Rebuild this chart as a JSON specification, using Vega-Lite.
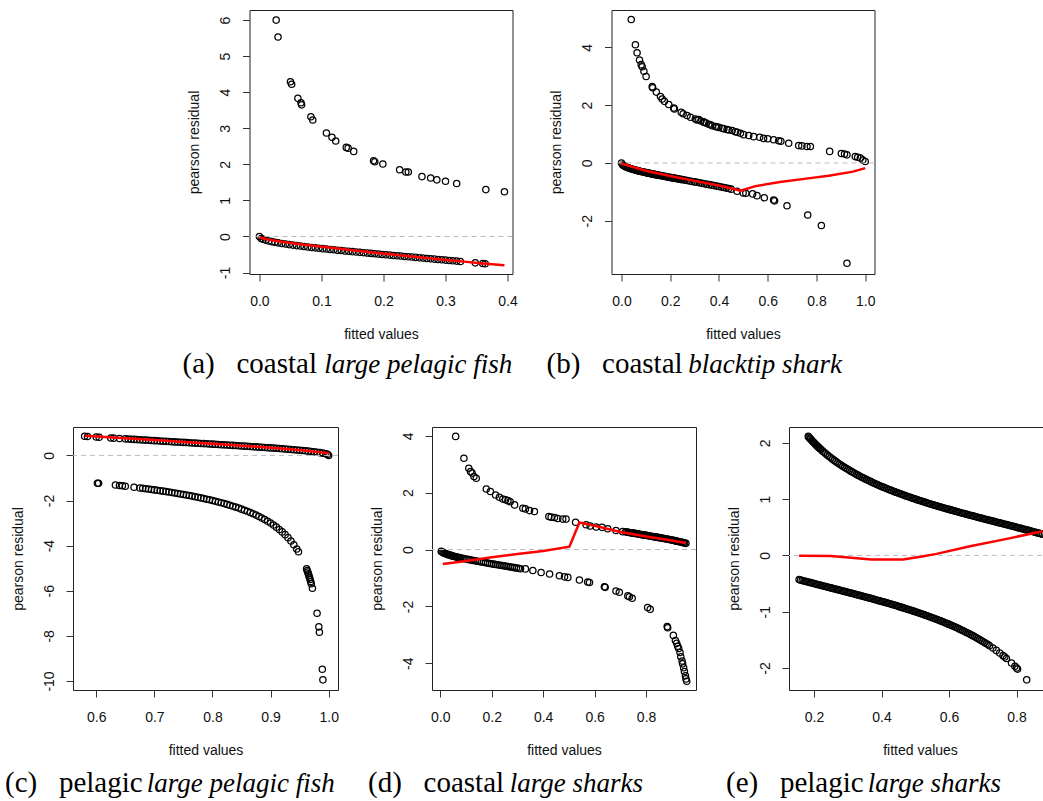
{
  "$schema": "https://vega.github.io/schema/vega-lite/v6.json",
  "background": "white",
  "padding": {"left": 4, "top": 9, "right": -5, "bottom": 2},
  "datasets": {
    "zero": [{"ref": 0}],
    "a_pts": [
      {"x":0.027,"y":6.0},{"x":0.030,"y":5.53},{"x":0.050,"y":4.29},{"x":0.052,"y":4.22},{"x":0.062,"y":3.83},{"x":0.067,"y":3.71},{"x":0.068,"y":3.65},{"x":0.083,"y":3.32},{"x":0.086,"y":3.23},{"x":0.108,"y":2.87},{"x":0.117,"y":2.75},{"x":0.123,"y":2.65},{"x":0.140,"y":2.47},{"x":0.143,"y":2.45},{"x":0.152,"y":2.36},{"x":0.184,"y":2.10},{"x":0.186,"y":2.07},{"x":0.199,"y":2.01},{"x":0.226,"y":1.85},{"x":0.236,"y":1.79},{"x":0.240,"y":1.79},{"x":0.262,"y":1.66},{"x":0.276,"y":1.62},{"x":0.286,"y":1.57},{"x":0.300,"y":1.53},{"x":0.318,"y":1.47},{"x":0.365,"y":1.30},{"x":0.395,"y":1.24},
      {"x":0,"y":0},{"x":0.003,"y":-0.055},{"x":0.006,"y":-0.078},{"x":0.01,"y":-0.1},{"x":0.015,"y":-0.123},{"x":0.02,"y":-0.143},{"x":0.025,"y":-0.16},{"x":0.03,"y":-0.176},{"x":0.036,"y":-0.193},{"x":0.042,"y":-0.209},{"x":0.048,"y":-0.225},{"x":0.054,"y":-0.239},{"x":0.06,"y":-0.253},{"x":0.066,"y":-0.266},{"x":0.072,"y":-0.279},{"x":0.078,"y":-0.291},{"x":0.084,"y":-0.303},{"x":0.09,"y":-0.315},{"x":0.096,"y":-0.326},{"x":0.102,"y":-0.337},{"x":0.108,"y":-0.348},{"x":0.114,"y":-0.359},{"x":0.12,"y":-0.369},{"x":0.126,"y":-0.38},{"x":0.132,"y":-0.39},{"x":0.138,"y":-0.4},{"x":0.144,"y":-0.41},{"x":0.15,"y":-0.42},{"x":0.156,"y":-0.43},{"x":0.162,"y":-0.44},{"x":0.168,"y":-0.449},{"x":0.174,"y":-0.459},{"x":0.18,"y":-0.469},{"x":0.186,"y":-0.478},{"x":0.192,"y":-0.488},{"x":0.198,"y":-0.497},{"x":0.204,"y":-0.506},{"x":0.21,"y":-0.516},{"x":0.216,"y":-0.525},{"x":0.222,"y":-0.534},{"x":0.228,"y":-0.543},{"x":0.234,"y":-0.553},{"x":0.24,"y":-0.562},{"x":0.246,"y":-0.571},{"x":0.252,"y":-0.58},{"x":0.258,"y":-0.59},{"x":0.264,"y":-0.599},{"x":0.27,"y":-0.608},{"x":0.276,"y":-0.617},{"x":0.282,"y":-0.627},{"x":0.288,"y":-0.636},{"x":0.294,"y":-0.645},{"x":0.3,"y":-0.655},{"x":0.306,"y":-0.664},{"x":0.312,"y":-0.673},{"x":0.318,"y":-0.683},{"x":0.324,"y":-0.692},{"x":0.348,"y":-0.731},{"x":0.36,"y":-0.75},{"x":0.364,"y":-0.757}
    ],
    "a_fit": [
      {"x":0,"y":-0.03},{"x":0.01,"y":-0.07},{"x":0.03,"y":-0.13},{"x":0.05,"y":-0.18},{"x":0.083,"y":-0.25},{"x":0.12,"y":-0.32},{"x":0.15,"y":-0.38},{"x":0.19,"y":-0.46},{"x":0.25,"y":-0.56},{"x":0.29,"y":-0.63},{"x":0.326,"y":-0.69},{"x":0.36,"y":-0.75},{"x":0.395,"y":-0.80}
    ],
    "b_pts": [
      {"x":0.040,"y":4.96},{"x":0.057,"y":4.09},{"x":0.064,"y":3.81},{"x":0.074,"y":3.56},{"x":0.081,"y":3.40},{"x":0.085,"y":3.33},{"x":0.092,"y":3.17},{"x":0.101,"y":2.99},{"x":0.126,"y":2.64},{"x":0.128,"y":2.60},{"x":0.143,"y":2.45},{"x":0.160,"y":2.30},{"x":0.167,"y":2.21},{"x":0.176,"y":2.13},{"x":0.194,"y":2.02},{"x":0.214,"y":1.90},{"x":0.217,"y":1.87},{"x":0.245,"y":1.75},{"x":0.253,"y":1.70},{"x":0.269,"y":1.64},{"x":0.283,"y":1.58},{"x":0.303,"y":1.52},{"x":0.31,"y":1.49},{"x":0.317,"y":1.50},{"x":0.326,"y":1.45},{"x":0.337,"y":1.42},{"x":0.34,"y":1.40},{"x":0.347,"y":1.38},{"x":0.358,"y":1.34},{"x":0.365,"y":1.32},{"x":0.372,"y":1.29},{"x":0.385,"y":1.26},{"x":0.39,"y":1.25},{"x":0.399,"y":1.23},{"x":0.413,"y":1.20},{"x":0.42,"y":1.18},{"x":0.433,"y":1.16},{"x":0.44,"y":1.14},{"x":0.454,"y":1.12},{"x":0.467,"y":1.08},{"x":0.475,"y":1.06},{"x":0.488,"y":1.03},{"x":0.501,"y":0.98},{"x":0.522,"y":0.95},{"x":0.542,"y":0.91},{"x":0.567,"y":0.89},{"x":0.583,"y":0.85},{"x":0.600,"y":0.84},{"x":0.624,"y":0.80},{"x":0.645,"y":0.77},{"x":0.654,"y":0.75},{"x":0.686,"y":0.68},{"x":0.727,"y":0.60},{"x":0.740,"y":0.59},{"x":0.761,"y":0.57},{"x":0.775,"y":0.57},{"x":0.854,"y":0.40},{"x":0.902,"y":0.33},{"x":0.915,"y":0.31},{"x":0.925,"y":0.28},{"x":0.959,"y":0.22},{"x":0.969,"y":0.20},{"x":0.980,"y":0.17},{"x":0.990,"y":0.10},{"x":1.000,"y":0.05},
      {"x":0,"y":0},{"x":0.005,"y":-0.071},{"x":0.01,"y":-0.1},{"x":0.015,"y":-0.123},{"x":0.02,"y":-0.143},{"x":0.025,"y":-0.16},{"x":0.03,"y":-0.176},{"x":0.035,"y":-0.19},{"x":0.04,"y":-0.204},{"x":0.045,"y":-0.217},{"x":0.05,"y":-0.229},{"x":0.055,"y":-0.241},{"x":0.06,"y":-0.253},{"x":0.065,"y":-0.264},{"x":0.07,"y":-0.274},{"x":0.075,"y":-0.285},{"x":0.08,"y":-0.295},{"x":0.085,"y":-0.305},{"x":0.09,"y":-0.315},{"x":0.095,"y":-0.324},{"x":0.1,"y":-0.333},{"x":0.105,"y":-0.343},{"x":0.11,"y":-0.352},{"x":0.115,"y":-0.36},{"x":0.12,"y":-0.369},{"x":0.125,"y":-0.378},{"x":0.13,"y":-0.387},{"x":0.135,"y":-0.395},{"x":0.14,"y":-0.404},{"x":0.145,"y":-0.412},{"x":0.15,"y":-0.42},{"x":0.155,"y":-0.428},{"x":0.16,"y":-0.436},{"x":0.165,"y":-0.445},{"x":0.17,"y":-0.453},{"x":0.175,"y":-0.461},{"x":0.18,"y":-0.469},{"x":0.185,"y":-0.476},{"x":0.19,"y":-0.484},{"x":0.195,"y":-0.492},{"x":0.2,"y":-0.5},{"x":0.205,"y":-0.508},{"x":0.21,"y":-0.516},{"x":0.215,"y":-0.523},{"x":0.22,"y":-0.531},{"x":0.225,"y":-0.539},{"x":0.23,"y":-0.547},{"x":0.235,"y":-0.554},{"x":0.24,"y":-0.562},{"x":0.245,"y":-0.57},{"x":0.25,"y":-0.577},{"x":0.26,"y":-0.593},{"x":0.27,"y":-0.608},{"x":0.28,"y":-0.624},{"x":0.29,"y":-0.639},{"x":0.3,"y":-0.655},{"x":0.31,"y":-0.67},{"x":0.32,"y":-0.686},{"x":0.33,"y":-0.702},{"x":0.34,"y":-0.718},{"x":0.35,"y":-0.734},{"x":0.36,"y":-0.75},{"x":0.37,"y":-0.766},{"x":0.38,"y":-0.783},{"x":0.39,"y":-0.8},{"x":0.4,"y":-0.817},{"x":0.41,"y":-0.834},{"x":0.42,"y":-0.851},{"x":0.43,"y":-0.869},{"x":0.44,"y":-0.886},{"x":0.45,"y":-0.905},
      {"x":0.474,"y":-0.98},{"x":0.499,"y":-1.04},{"x":0.510,"y":-1.05},{"x":0.538,"y":-1.07},{"x":0.556,"y":-1.13},{"x":0.586,"y":-1.20},{"x":0.624,"y":-1.28},{"x":0.628,"y":-1.31},{"x":0.679,"y":-1.48},{"x":0.764,"y":-1.80},{"x":0.820,"y":-2.16},{"x":0.925,"y":-3.47}
    ],
    "b_fit": [
      {"x":0,"y":-0.02},{"x":0.05,"y":-0.15},{"x":0.1,"y":-0.27},{"x":0.2,"y":-0.45},{"x":0.3,"y":-0.62},{"x":0.4,"y":-0.78},{"x":0.488,"y":-0.96},{"x":0.55,"y":-0.80},{"x":0.65,"y":-0.66},{"x":0.75,"y":-0.55},{"x":0.85,"y":-0.44},{"x":0.95,"y":-0.30},{"x":1.0,"y":-0.18}
    ],
    "c_pts": [
      {"x":0.58,"y":0.851},{"x":0.585,"y":0.842},{"x":0.6,"y":0.8165},{"x":0.605,"y":0.808},{"x":0.625,"y":0.7746},{"x":0.63,"y":0.7664},{"x":0.64,"y":0.75},{"x":0.65,"y":0.7338},{"x":0.655,"y":0.7258},{"x":0.66,"y":0.7177},{"x":0.665,"y":0.7098},{"x":0.67,"y":0.7018},{"x":0.675,"y":0.6939},{"x":0.68,"y":0.686},{"x":0.685,"y":0.6782},{"x":0.69,"y":0.6703},{"x":0.695,"y":0.6625},{"x":0.7,"y":0.6547},{"x":0.705,"y":0.6469},{"x":0.71,"y":0.6391},{"x":0.715,"y":0.6314},{"x":0.72,"y":0.6236},{"x":0.725,"y":0.6159},{"x":0.73,"y":0.6082},{"x":0.735,"y":0.6005},{"x":0.74,"y":0.5928},{"x":0.745,"y":0.5851},{"x":0.75,"y":0.5774},{"x":0.755,"y":0.5697},{"x":0.76,"y":0.562},{"x":0.765,"y":0.5542},{"x":0.77,"y":0.5465},{"x":0.775,"y":0.5388},{"x":0.78,"y":0.5311},{"x":0.785,"y":0.5233},{"x":0.79,"y":0.5156},{"x":0.795,"y":0.5078},{"x":0.8,"y":0.5},{"x":0.805,"y":0.4922},{"x":0.81,"y":0.4843},{"x":0.815,"y":0.4764},{"x":0.82,"y":0.4685},{"x":0.825,"y":0.4606},{"x":0.83,"y":0.4526},{"x":0.835,"y":0.4445},{"x":0.84,"y":0.4364},{"x":0.845,"y":0.4283},{"x":0.85,"y":0.4201},{"x":0.855,"y":0.4118},{"x":0.86,"y":0.4035},{"x":0.865,"y":0.3951},{"x":0.87,"y":0.3866},{"x":0.875,"y":0.378},{"x":0.88,"y":0.3693},{"x":0.885,"y":0.3605},{"x":0.89,"y":0.3516},{"x":0.895,"y":0.3426},{"x":0.9,"y":0.3333},{"x":0.905,"y":0.324},{"x":0.91,"y":0.3145},{"x":0.915,"y":0.3048},{"x":0.92,"y":0.2949},{"x":0.925,"y":0.2847},{"x":0.93,"y":0.2744},{"x":0.935,"y":0.2637},{"x":0.94,"y":0.2526},{"x":0.945,"y":0.2412},{"x":0.95,"y":0.2294},{"x":0.955,"y":0.2171},{"x":0.96,"y":0.2041},{"x":0.965,"y":0.1904},{"x":0.97,"y":0.1759},{"x":0.975,"y":0.1601},{"x":0.98,"y":0.1429},{"x":0.985,"y":0.1234},{"x":0.99,"y":0.1005},{"x":0.995,"y":0.0709},{"x":0.998,"y":0.0448},{"x":1.0,"y":0.0},
      {"x":0.602,"y":-1.23},{"x":0.604,"y":-1.235},{"x":0.633,"y":-1.313},{"x":0.64,"y":-1.333},{"x":0.645,"y":-1.348},{"x":0.65,"y":-1.363},{"x":0.665,"y":-1.409},{"x":0.675,"y":-1.441},{"x":0.68,"y":-1.458},{"x":0.685,"y":-1.475},{"x":0.69,"y":-1.492},{"x":0.695,"y":-1.51},{"x":0.7,"y":-1.528},{"x":0.705,"y":-1.546},{"x":0.71,"y":-1.565},{"x":0.715,"y":-1.584},{"x":0.72,"y":-1.604},{"x":0.725,"y":-1.624},{"x":0.73,"y":-1.644},{"x":0.735,"y":-1.665},{"x":0.74,"y":-1.687},{"x":0.745,"y":-1.709},{"x":0.75,"y":-1.732},{"x":0.755,"y":-1.755},{"x":0.76,"y":-1.78},{"x":0.765,"y":-1.804},{"x":0.77,"y":-1.83},{"x":0.775,"y":-1.856},{"x":0.78,"y":-1.883},{"x":0.785,"y":-1.911},{"x":0.79,"y":-1.94},{"x":0.795,"y":-1.969},{"x":0.8,"y":-2.0},{"x":0.805,"y":-2.032},{"x":0.81,"y":-2.065},{"x":0.815,"y":-2.099},{"x":0.82,"y":-2.134},{"x":0.825,"y":-2.171},{"x":0.83,"y":-2.21},{"x":0.835,"y":-2.25},{"x":0.84,"y":-2.291},{"x":0.845,"y":-2.335},{"x":0.85,"y":-2.381},{"x":0.855,"y":-2.428},{"x":0.86,"y":-2.479},{"x":0.865,"y":-2.531},{"x":0.87,"y":-2.587},{"x":0.875,"y":-2.646},{"x":0.88,"y":-2.708},{"x":0.885,"y":-2.774},{"x":0.89,"y":-2.845},{"x":0.895,"y":-2.92},{"x":0.9,"y":-3.0},{"x":0.905,"y":-3.087},{"x":0.91,"y":-3.18},{"x":0.915,"y":-3.281},{"x":0.92,"y":-3.391},{"x":0.925,"y":-3.512},{"x":0.93,"y":-3.645},{"x":0.935,"y":-3.793},{"x":0.94,"y":-3.958},{"x":0.945,"y":-4.145},{"x":0.948,"y":-4.27},{"x":0.962,"y":-5.031},{"x":0.963,"y":-5.102},{"x":0.964,"y":-5.175},{"x":0.965,"y":-5.251},{"x":0.966,"y":-5.33},{"x":0.967,"y":-5.413},{"x":0.968,"y":-5.5},{"x":0.969,"y":-5.591},{"x":0.97,"y":-5.686},{"x":0.972,"y":-5.892},{"x":0.98,"y":-7.0},{"x":0.983,"y":-7.6},{"x":0.984,"y":-7.84},{"x":0.989,"y":-9.48},{"x":0.99,"y":-9.95}
    ],
    "c_fit": [
      {"x":0.58,"y":0.87},{"x":0.65,"y":0.76},{"x":0.7,"y":0.68},{"x":0.75,"y":0.6},{"x":0.8,"y":0.52},{"x":0.85,"y":0.43},{"x":0.9,"y":0.34},{"x":0.95,"y":0.24},{"x":1.0,"y":0.1}
    ],
    "d_pts": [
      {"x":0.060,"y":3.98},{"x":0.092,"y":3.21},{"x":0.111,"y":2.86},{"x":0.118,"y":2.74},{"x":0.124,"y":2.69},{"x":0.131,"y":2.57},{"x":0.140,"y":2.51},{"x":0.179,"y":2.13},{"x":0.195,"y":2.04},{"x":0.215,"y":1.92},{"x":0.230,"y":1.84},{"x":0.243,"y":1.78},{"x":0.254,"y":1.75},{"x":0.263,"y":1.72},{"x":0.272,"y":1.68},{"x":0.289,"y":1.57},{"x":0.321,"y":1.45},{"x":0.331,"y":1.43},{"x":0.347,"y":1.37},{"x":0.366,"y":1.34},{"x":0.422,"y":1.16},{"x":0.431,"y":1.14},{"x":0.444,"y":1.13},{"x":0.457,"y":1.09},{"x":0.476,"y":1.07},{"x":0.489,"y":1.07},{"x":0.526,"y":0.96},{"x":0.567,"y":0.87},{"x":0.583,"y":0.83},{"x":0.606,"y":0.79},{"x":0.629,"y":0.78},{"x":0.651,"y":0.73},{"x":0.683,"y":0.67},{"x":0.709,"y":0.63},
      {"x":0.72,"y":0.6236},{"x":0.725,"y":0.6159},{"x":0.73,"y":0.6082},{"x":0.735,"y":0.6005},{"x":0.74,"y":0.5928},{"x":0.745,"y":0.5851},{"x":0.75,"y":0.5774},{"x":0.755,"y":0.5697},{"x":0.76,"y":0.562},{"x":0.765,"y":0.5542},{"x":0.77,"y":0.5465},{"x":0.775,"y":0.5388},{"x":0.78,"y":0.5311},{"x":0.785,"y":0.5233},{"x":0.79,"y":0.5156},{"x":0.795,"y":0.5078},{"x":0.8,"y":0.5},{"x":0.805,"y":0.4922},{"x":0.81,"y":0.4843},{"x":0.815,"y":0.4764},{"x":0.82,"y":0.4685},{"x":0.825,"y":0.4606},{"x":0.83,"y":0.4526},{"x":0.835,"y":0.4445},{"x":0.84,"y":0.4364},{"x":0.845,"y":0.4283},{"x":0.85,"y":0.4201},{"x":0.855,"y":0.4118},{"x":0.86,"y":0.4035},{"x":0.865,"y":0.3951},{"x":0.87,"y":0.3866},{"x":0.875,"y":0.378},{"x":0.88,"y":0.3693},{"x":0.885,"y":0.3605},{"x":0.89,"y":0.3516},{"x":0.895,"y":0.3426},{"x":0.9,"y":0.3333},{"x":0.905,"y":0.324},{"x":0.91,"y":0.3145},{"x":0.915,"y":0.3048},{"x":0.92,"y":0.2949},{"x":0.925,"y":0.2847},{"x":0.93,"y":0.2744},{"x":0.935,"y":0.2637},{"x":0.94,"y":0.2526},{"x":0.945,"y":0.2412},{"x":0.95,"y":0.2294},{"x":0.955,"y":0.2171},
      {"x":0.004,"y":-0.065},{"x":0.008,"y":-0.09},{"x":0.012,"y":-0.11},{"x":0.016,"y":-0.128},{"x":0.02,"y":-0.143},{"x":0.024,"y":-0.157},{"x":0.028,"y":-0.17},{"x":0.032,"y":-0.182},{"x":0.036,"y":-0.193},{"x":0.04,"y":-0.204},{"x":0.044,"y":-0.215},{"x":0.048,"y":-0.225},{"x":0.052,"y":-0.234},{"x":0.056,"y":-0.244},{"x":0.06,"y":-0.253},{"x":0.064,"y":-0.262},{"x":0.068,"y":-0.27},{"x":0.072,"y":-0.279},{"x":0.076,"y":-0.287},{"x":0.08,"y":-0.295},{"x":0.088,"y":-0.311},{"x":0.096,"y":-0.326},{"x":0.104,"y":-0.341},{"x":0.112,"y":-0.355},{"x":0.12,"y":-0.369},{"x":0.128,"y":-0.383},{"x":0.136,"y":-0.397},{"x":0.144,"y":-0.41},{"x":0.152,"y":-0.423},{"x":0.16,"y":-0.436},{"x":0.168,"y":-0.449},{"x":0.176,"y":-0.462},{"x":0.184,"y":-0.475},{"x":0.192,"y":-0.488},{"x":0.2,"y":-0.5},{"x":0.208,"y":-0.513},{"x":0.216,"y":-0.525},{"x":0.224,"y":-0.537},{"x":0.232,"y":-0.55},{"x":0.24,"y":-0.562},{"x":0.248,"y":-0.574},{"x":0.256,"y":-0.587},{"x":0.264,"y":-0.599},{"x":0.272,"y":-0.611},{"x":0.28,"y":-0.624},{"x":0.288,"y":-0.636},{"x":0.296,"y":-0.648},{"x":0.304,"y":-0.661},{"x":0.312,"y":-0.673},
      {"x":0.331,"y":-0.68},{"x":0.360,"y":-0.74},{"x":0.392,"y":-0.81},{"x":0.425,"y":-0.86},{"x":0.463,"y":-0.92},{"x":0.483,"y":-0.96},{"x":0.496,"y":-0.98},{"x":0.541,"y":-1.07},{"x":0.573,"y":-1.14},{"x":0.580,"y":-1.16},{"x":0.638,"y":-1.31},{"x":0.641,"y":-1.33},{"x":0.683,"y":-1.46},{"x":0.696,"y":-1.50},{"x":0.729,"y":-1.63},{"x":0.735,"y":-1.66},{"x":0.746,"y":-1.71},{"x":0.806,"y":-2.04},{"x":0.816,"y":-2.10},{"x":0.882,"y":-2.71},{"x":0.884,"y":-2.75},{"x":0.906,"y":-3.02},{"x":0.914,"y":-3.20},{"x":0.919,"y":-3.30},{"x":0.923,"y":-3.40},{"x":0.927,"y":-3.48},{"x":0.932,"y":-3.62},{"x":0.935,"y":-3.77},{"x":0.940,"y":-3.92},{"x":0.942,"y":-4.02},{"x":0.946,"y":-4.16},{"x":0.949,"y":-4.29},{"x":0.953,"y":-4.44},{"x":0.955,"y":-4.55},{"x":0.958,"y":-4.63}
    ],
    "d_fit": [
      {"x":0.01,"y":-0.51},{"x":0.1,"y":-0.40},{"x":0.2,"y":-0.27},{"x":0.3,"y":-0.16},{"x":0.4,"y":-0.05},{"x":0.502,"y":0.10},{"x":0.541,"y":0.95},{"x":0.6,"y":0.84},{"x":0.7,"y":0.62},{"x":0.8,"y":0.46},{"x":0.9,"y":0.32},{"x":0.955,"y":0.23}
    ],
    "e_pts": [
      {"x":0.183,"y":2.113},{"x":0.185,"y":2.099},{"x":0.188,"y":2.078},{"x":0.19,"y":2.065},{"x":0.193,"y":2.045},{"x":0.195,"y":2.032},{"x":0.198,"y":2.013},{"x":0.2,"y":2.0},{"x":0.203,"y":1.981},{"x":0.205,"y":1.969},{"x":0.208,"y":1.952},{"x":0.21,"y":1.94},{"x":0.213,"y":1.922},{"x":0.215,"y":1.911},{"x":0.218,"y":1.894},{"x":0.22,"y":1.883},{"x":0.225,"y":1.856},{"x":0.23,"y":1.83},{"x":0.235,"y":1.804},{"x":0.24,"y":1.78},{"x":0.245,"y":1.755},{"x":0.25,"y":1.732},{"x":0.255,"y":1.709},{"x":0.26,"y":1.687},{"x":0.265,"y":1.665},{"x":0.27,"y":1.644},{"x":0.275,"y":1.624},{"x":0.28,"y":1.604},{"x":0.285,"y":1.584},{"x":0.29,"y":1.565},{"x":0.295,"y":1.546},{"x":0.3,"y":1.528},{"x":0.305,"y":1.51},{"x":0.31,"y":1.492},{"x":0.315,"y":1.475},{"x":0.32,"y":1.458},{"x":0.325,"y":1.441},{"x":0.33,"y":1.425},{"x":0.335,"y":1.409},{"x":0.34,"y":1.393},{"x":0.345,"y":1.378},{"x":0.35,"y":1.363},{"x":0.355,"y":1.348},{"x":0.36,"y":1.333},{"x":0.365,"y":1.319},{"x":0.37,"y":1.305},{"x":0.375,"y":1.291},{"x":0.38,"y":1.277},{"x":0.385,"y":1.264},{"x":0.39,"y":1.251},{"x":0.395,"y":1.238},{"x":0.4,"y":1.225},{"x":0.405,"y":1.212},{"x":0.41,"y":1.2},{"x":0.415,"y":1.187},{"x":0.42,"y":1.175},{"x":0.425,"y":1.163},{"x":0.43,"y":1.151},{"x":0.435,"y":1.139},{"x":0.44,"y":1.128},{"x":0.445,"y":1.116},{"x":0.45,"y":1.106},{"x":0.455,"y":1.095},{"x":0.46,"y":1.084},{"x":0.465,"y":1.073},{"x":0.47,"y":1.062},{"x":0.475,"y":1.051},{"x":0.48,"y":1.041},{"x":0.485,"y":1.031},{"x":0.49,"y":1.02},{"x":0.495,"y":1.01},{"x":0.5,"y":1.0},{"x":0.505,"y":0.99},{"x":0.51,"y":0.98},{"x":0.515,"y":0.971},{"x":0.52,"y":0.961},{"x":0.525,"y":0.951},{"x":0.53,"y":0.942},{"x":0.535,"y":0.932},{"x":0.54,"y":0.923},{"x":0.545,"y":0.914},{"x":0.55,"y":0.905},{"x":0.555,"y":0.895},{"x":0.56,"y":0.886},{"x":0.565,"y":0.877},{"x":0.57,"y":0.869},{"x":0.575,"y":0.86},{"x":0.58,"y":0.851},{"x":0.585,"y":0.842},{"x":0.59,"y":0.834},{"x":0.595,"y":0.825},{"x":0.6,"y":0.817},{"x":0.605,"y":0.808},{"x":0.61,"y":0.8},{"x":0.615,"y":0.791},{"x":0.62,"y":0.783},{"x":0.625,"y":0.775},{"x":0.63,"y":0.766},{"x":0.635,"y":0.758},{"x":0.64,"y":0.75},{"x":0.645,"y":0.742},{"x":0.65,"y":0.734},{"x":0.655,"y":0.726},{"x":0.66,"y":0.718},{"x":0.665,"y":0.71},{"x":0.67,"y":0.702},{"x":0.675,"y":0.694},{"x":0.68,"y":0.686},{"x":0.685,"y":0.678},{"x":0.69,"y":0.67},{"x":0.695,"y":0.662},{"x":0.7,"y":0.655},{"x":0.705,"y":0.647},{"x":0.71,"y":0.639},{"x":0.715,"y":0.631},{"x":0.72,"y":0.624},{"x":0.725,"y":0.616},{"x":0.73,"y":0.608},{"x":0.735,"y":0.6},{"x":0.74,"y":0.593},{"x":0.745,"y":0.585},{"x":0.75,"y":0.577},{"x":0.755,"y":0.57},{"x":0.76,"y":0.562},{"x":0.765,"y":0.554},{"x":0.77,"y":0.547},{"x":0.775,"y":0.539},{"x":0.78,"y":0.531},{"x":0.785,"y":0.523},{"x":0.79,"y":0.516},{"x":0.795,"y":0.508},{"x":0.8,"y":0.5},{"x":0.805,"y":0.492},{"x":0.81,"y":0.484},{"x":0.815,"y":0.476},{"x":0.82,"y":0.469},{"x":0.825,"y":0.461},{"x":0.83,"y":0.453},{"x":0.835,"y":0.445},{"x":0.84,"y":0.436},{"x":0.845,"y":0.428},{"x":0.85,"y":0.42},{"x":0.855,"y":0.412},{"x":0.86,"y":0.404},{"x":0.865,"y":0.395},{"x":0.87,"y":0.387},{"x":0.877,"y":0.375},
      {"x":0.156,"y":-0.43},{"x":0.16,"y":-0.436},{"x":0.165,"y":-0.445},{"x":0.17,"y":-0.453},{"x":0.175,"y":-0.461},{"x":0.18,"y":-0.469},{"x":0.185,"y":-0.476},{"x":0.19,"y":-0.484},{"x":0.195,"y":-0.492},{"x":0.2,"y":-0.5},{"x":0.205,"y":-0.508},{"x":0.21,"y":-0.516},{"x":0.215,"y":-0.523},{"x":0.22,"y":-0.531},{"x":0.225,"y":-0.539},{"x":0.23,"y":-0.547},{"x":0.235,"y":-0.554},{"x":0.24,"y":-0.562},{"x":0.245,"y":-0.57},{"x":0.25,"y":-0.577},{"x":0.255,"y":-0.585},{"x":0.26,"y":-0.593},{"x":0.265,"y":-0.6},{"x":0.27,"y":-0.608},{"x":0.275,"y":-0.616},{"x":0.28,"y":-0.624},{"x":0.285,"y":-0.631},{"x":0.29,"y":-0.639},{"x":0.295,"y":-0.647},{"x":0.3,"y":-0.655},{"x":0.305,"y":-0.662},{"x":0.31,"y":-0.67},{"x":0.315,"y":-0.678},{"x":0.32,"y":-0.686},{"x":0.325,"y":-0.694},{"x":0.33,"y":-0.702},{"x":0.335,"y":-0.71},{"x":0.34,"y":-0.718},{"x":0.345,"y":-0.726},{"x":0.35,"y":-0.734},{"x":0.355,"y":-0.742},{"x":0.36,"y":-0.75},{"x":0.365,"y":-0.758},{"x":0.37,"y":-0.766},{"x":0.375,"y":-0.775},{"x":0.38,"y":-0.783},{"x":0.385,"y":-0.791},{"x":0.39,"y":-0.8},{"x":0.395,"y":-0.808},{"x":0.4,"y":-0.817},{"x":0.405,"y":-0.825},{"x":0.41,"y":-0.834},{"x":0.415,"y":-0.842},{"x":0.42,"y":-0.851},{"x":0.425,"y":-0.86},{"x":0.43,"y":-0.869},{"x":0.435,"y":-0.877},{"x":0.44,"y":-0.886},{"x":0.445,"y":-0.895},{"x":0.45,"y":-0.905},{"x":0.455,"y":-0.914},{"x":0.46,"y":-0.923},{"x":0.465,"y":-0.932},{"x":0.47,"y":-0.942},{"x":0.475,"y":-0.951},{"x":0.48,"y":-0.961},{"x":0.485,"y":-0.971},{"x":0.49,"y":-0.98},{"x":0.495,"y":-0.99},{"x":0.5,"y":-1.0},{"x":0.505,"y":-1.01},{"x":0.51,"y":-1.02},{"x":0.515,"y":-1.031},{"x":0.52,"y":-1.041},{"x":0.525,"y":-1.051},{"x":0.53,"y":-1.062},{"x":0.535,"y":-1.073},{"x":0.54,"y":-1.084},{"x":0.545,"y":-1.095},{"x":0.55,"y":-1.106},{"x":0.555,"y":-1.116},{"x":0.56,"y":-1.128},{"x":0.565,"y":-1.139},{"x":0.57,"y":-1.151},{"x":0.575,"y":-1.163},{"x":0.58,"y":-1.175},{"x":0.585,"y":-1.187},{"x":0.59,"y":-1.2},{"x":0.595,"y":-1.212},{"x":0.6,"y":-1.225},{"x":0.605,"y":-1.238},{"x":0.61,"y":-1.251},{"x":0.615,"y":-1.264},{"x":0.62,"y":-1.277},{"x":0.625,"y":-1.291},{"x":0.63,"y":-1.305},{"x":0.635,"y":-1.319},{"x":0.64,"y":-1.333},{"x":0.645,"y":-1.348},{"x":0.65,"y":-1.363},{"x":0.655,"y":-1.378},{"x":0.66,"y":-1.393},{"x":0.665,"y":-1.409},{"x":0.67,"y":-1.425},{"x":0.675,"y":-1.441},{"x":0.68,"y":-1.458},{"x":0.685,"y":-1.475},{"x":0.69,"y":-1.492},{"x":0.695,"y":-1.51},{"x":0.7,"y":-1.528},{"x":0.705,"y":-1.546},{"x":0.71,"y":-1.565},{"x":0.715,"y":-1.584},{"x":0.72,"y":-1.604},{"x":0.73,"y":-1.644},{"x":0.74,"y":-1.687},{"x":0.75,"y":-1.732},{"x":0.76,"y":-1.78},{"x":0.765,"y":-1.804},{"x":0.77,"y":-1.83},{"x":0.785,"y":-1.911},{"x":0.795,"y":-1.969},{"x":0.8,"y":-2.0},{"x":0.803,"y":-2.019},{"x":0.83,"y":-2.21}
    ],
    "e_fit": [
      {"x":0.156,"y":-0.005},{"x":0.25,"y":-0.01},{"x":0.336,"y":-0.056},{"x":0.37,"y":-0.074},{"x":0.464,"y":-0.074},{"x":0.524,"y":-0.015},{"x":0.563,"y":0.027},{"x":0.662,"y":0.163},{"x":0.76,"y":0.28},{"x":0.877,"y":0.43}
    ]
  },
  "spacing": 46,
  "center": true,
  "vconcat": [
    {
      "spacing": 27,
      "hconcat": [
        {
          "width": 263, "height": 264,
          "title": {"text": "(a)\u00a0\u00a0\u00a0coastal", "subtitle": "\u200b\u00a0\u00a0\u00a0\u00a0\u00a0\u00a0\u00a0\u00a0\u00a0\u00a0\u00a0\u00a0\u00a0\u00a0\u00a0\u00a0\u00a0\u00a0\u00a0\u00a0\u00a0large pelagic fish", "dx": -5, "offset": 9},
          "layer": [
            {"data": {"name": "a_pts"}, "mark": {"type": "point", "shape": "circle", "filled": false, "size": 40, "strokeWidth": 1.25, "color": "black", "opacity": 1},
             "encoding": {
               "x": {"field": "x", "type": "quantitative", "title": "fitted values", "scale": {"domain": [-0.016, 0.408], "nice": false, "zero": false}, "axis": {"values": [0, 0.1, 0.2, 0.3, 0.4], "tickCount": 20, "format": ".1f", "labelOverlap": false}},
               "y": {"field": "y", "type": "quantitative", "title": "pearson residual", "scale": {"domain": [-1.04, 6.28], "nice": false, "zero": false}, "axis": {"values": [-1, 0, 1, 2, 3, 4, 5, 6], "tickCount": 20, "format": "d", "labelOverlap": false, "labelExpr": "replace(datum.label, '\u2212', '-')"}}
             }},
            {"data": {"name": "zero"}, "mark": {"type": "rule", "color": "#bbbbbb", "strokeDash": [5, 4], "strokeWidth": 1}, "encoding": {"y": {"field": "ref", "type": "quantitative", "title": "pearson residual"}}},
            {"data": {"name": "a_fit"}, "mark": {"type": "line", "color": "#ff0000", "strokeWidth": 2.5}, "encoding": {"x": {"field": "x", "type": "quantitative", "title": "fitted values"}, "y": {"field": "y", "type": "quantitative", "title": "pearson residual"}}}
          ]
        },
        {
          "width": 263, "height": 264,
          "title": {"text": "(b)\u00a0\u00a0\u00a0coastal", "subtitle": "\u200b\u00a0\u00a0\u00a0\u00a0\u00a0\u00a0\u00a0\u00a0\u00a0\u00a0\u00a0\u00a0\u00a0\u00a0\u00a0\u00a0\u00a0\u00a0\u00a0\u00a0\u00a0blacktip shark", "dx": -3, "offset": 9},
          "layer": [
            {"data": {"name": "b_pts"}, "mark": {"type": "point", "shape": "circle", "filled": false, "size": 40, "strokeWidth": 1.25, "color": "black", "opacity": 1},
             "encoding": {
               "x": {"field": "x", "type": "quantitative", "title": "fitted values", "scale": {"domain": [-0.041, 1.038], "nice": false, "zero": false}, "axis": {"values": [0, 0.2, 0.4, 0.6, 0.8, 1.0], "tickCount": 20, "format": ".1f", "labelOverlap": false}},
               "y": {"field": "y", "type": "quantitative", "title": "pearson residual", "scale": {"domain": [-3.84, 5.29], "nice": false, "zero": false}, "axis": {"values": [-2, 0, 2, 4], "tickCount": 20, "format": "d", "labelOverlap": false, "labelExpr": "replace(datum.label, '\u2212', '-')"}}
             }},
            {"data": {"name": "zero"}, "mark": {"type": "rule", "color": "#bbbbbb", "strokeDash": [5, 4], "strokeWidth": 1}, "encoding": {"y": {"field": "ref", "type": "quantitative", "title": "pearson residual"}}},
            {"data": {"name": "b_fit"}, "mark": {"type": "line", "color": "#ff0000", "strokeWidth": 2.5}, "encoding": {"x": {"field": "x", "type": "quantitative", "title": "fitted values"}, "y": {"field": "y", "type": "quantitative", "title": "pearson residual"}}}
          ]
        }
      ]
    },
    {
      "spacing": 28,
      "hconcat": [
        {
          "width": 265, "height": 263,
          "title": {"text": "(c)\u00a0\u00a0\u00a0pelagic", "subtitle": "\u200b\u00a0\u00a0\u00a0\u00a0\u00a0\u00a0\u00a0\u00a0\u00a0\u00a0\u00a0\u00a0\u00a0\u00a0\u00a0\u00a0\u00a0\u00a0\u00a0\u00a0\u00a0large pelagic fish", "dx": -6, "offset": 12},
          "layer": [
            {"data": {"name": "c_pts"}, "mark": {"type": "point", "shape": "circle", "filled": false, "size": 40, "strokeWidth": 1.25, "color": "black", "opacity": 1},
             "encoding": {
               "x": {"field": "x", "type": "quantitative", "title": "fitted values", "scale": {"domain": [0.56, 1.016], "nice": false, "zero": false}, "axis": {"values": [0.6, 0.7, 0.8, 0.9, 1.0], "tickCount": 20, "format": ".1f", "labelOverlap": false}},
               "y": {"field": "y", "type": "quantitative", "title": "pearson residual", "scale": {"domain": [-10.4, 1.26], "nice": false, "zero": false}, "axis": {"values": [-10, -8, -6, -4, -2, 0], "tickCount": 20, "format": "d", "labelOverlap": false, "labelExpr": "replace(datum.label, '\u2212', '-')"}}
             }},
            {"data": {"name": "zero"}, "mark": {"type": "rule", "color": "#bbbbbb", "strokeDash": [5, 4], "strokeWidth": 1}, "encoding": {"y": {"field": "ref", "type": "quantitative", "title": "pearson residual"}}},
            {"data": {"name": "c_fit"}, "mark": {"type": "line", "color": "#ff0000", "strokeWidth": 2.5}, "encoding": {"x": {"field": "x", "type": "quantitative", "title": "fitted values"}, "y": {"field": "y", "type": "quantitative", "title": "pearson residual"}}}
          ]
        },
        {
          "width": 264, "height": 263,
          "title": {"text": "(d)\u00a0\u00a0\u00a0coastal", "subtitle": "\u200b\u00a0\u00a0\u00a0\u00a0\u00a0\u00a0\u00a0\u00a0\u00a0\u00a0\u00a0\u00a0\u00a0\u00a0\u00a0\u00a0\u00a0\u00a0\u00a0\u00a0\u00a0large sharks", "dx": -2, "offset": 12},
          "layer": [
            {"data": {"name": "d_pts"}, "mark": {"type": "point", "shape": "circle", "filled": false, "size": 40, "strokeWidth": 1.25, "color": "black", "opacity": 1},
             "encoding": {
               "x": {"field": "x", "type": "quantitative", "title": "fitted values", "scale": {"domain": [-0.032, 0.994], "nice": false, "zero": false}, "axis": {"values": [0, 0.2, 0.4, 0.6, 0.8], "tickCount": 20, "format": ".1f", "labelOverlap": false}},
               "y": {"field": "y", "type": "quantitative", "title": "pearson residual", "scale": {"domain": [-4.94, 4.31], "nice": false, "zero": false}, "axis": {"values": [-4, -2, 0, 2, 4], "tickCount": 20, "format": "d", "labelOverlap": false, "labelExpr": "replace(datum.label, '\u2212', '-')"}}
             }},
            {"data": {"name": "zero"}, "mark": {"type": "rule", "color": "#bbbbbb", "strokeDash": [5, 4], "strokeWidth": 1}, "encoding": {"y": {"field": "ref", "type": "quantitative", "title": "pearson residual"}}},
            {"data": {"name": "d_fit"}, "mark": {"type": "line", "color": "#ff0000", "strokeWidth": 2.5}, "encoding": {"x": {"field": "x", "type": "quantitative", "title": "fitted values"}, "y": {"field": "y", "type": "quantitative", "title": "pearson residual"}}}
          ]
        },
        {
          "width": 262, "height": 263,
          "title": {"text": "(e)\u00a0\u00a0\u00a0pelagic", "subtitle": "\u200b\u00a0\u00a0\u00a0\u00a0\u00a0\u00a0\u00a0\u00a0\u00a0\u00a0\u00a0\u00a0\u00a0\u00a0\u00a0\u00a0\u00a0\u00a0\u00a0\u00a0\u00a0large sharks", "dx": -1, "offset": 12},
          "layer": [
            {"data": {"name": "e_pts"}, "mark": {"type": "point", "shape": "circle", "filled": false, "size": 40, "strokeWidth": 1.25, "color": "black", "opacity": 1},
             "encoding": {
               "x": {"field": "x", "type": "quantitative", "title": "fitted values", "scale": {"domain": [0.126, 0.902], "nice": false, "zero": false}, "axis": {"values": [0.2, 0.4, 0.6, 0.8], "tickCount": 20, "format": ".1f", "labelOverlap": false}},
               "y": {"field": "y", "type": "quantitative", "title": "pearson residual", "scale": {"domain": [-2.39, 2.28], "nice": false, "zero": false}, "axis": {"values": [-2, -1, 0, 1, 2], "tickCount": 20, "format": "d", "labelOverlap": false, "labelExpr": "replace(datum.label, '\u2212', '-')"}}
             }},
            {"data": {"name": "zero"}, "mark": {"type": "rule", "color": "#bbbbbb", "strokeDash": [5, 4], "strokeWidth": 1}, "encoding": {"y": {"field": "ref", "type": "quantitative", "title": "pearson residual"}}},
            {"data": {"name": "e_fit"}, "mark": {"type": "line", "color": "#ff0000", "strokeWidth": 2.5}, "encoding": {"x": {"field": "x", "type": "quantitative", "title": "fitted values"}, "y": {"field": "y", "type": "quantitative", "title": "pearson residual"}}}
          ]
        }
      ]
    }
  ],
  "config": {
    "view": {"stroke": "#222222", "strokeWidth": 1},
    "axis": {"domain": false, "grid": false, "tickSize": 7, "tickColor": "#333333", "tickWidth": 1, "labelFont": "Liberation Sans", "labelFontSize": 14, "labelColor": "#111111", "titleFont": "Liberation Sans", "titleFontSize": 14, "titleFontWeight": "normal", "titleColor": "#111111", "labelOverlap": false, "labelFlush": false},
    "axisX": {"labelPadding": 13, "titlePadding": 19},
    "axisY": {"labelAngle": -90, "labelAlign": "center", "labelBaseline": "bottom", "labelPadding": 10, "titlePadding": 17},
    "title": {"font": "Liberation Serif", "fontSize": 29, "fontWeight": "normal", "color": "#000000", "orient": "bottom", "anchor": "start", "frame": "bounds", "baseline": "top", "subtitleFont": "Liberation Serif", "subtitleFontSize": 27, "subtitleFontStyle": "italic", "subtitleFontWeight": "normal", "subtitleColor": "#000000", "subtitlePadding": -27}
  }
}
